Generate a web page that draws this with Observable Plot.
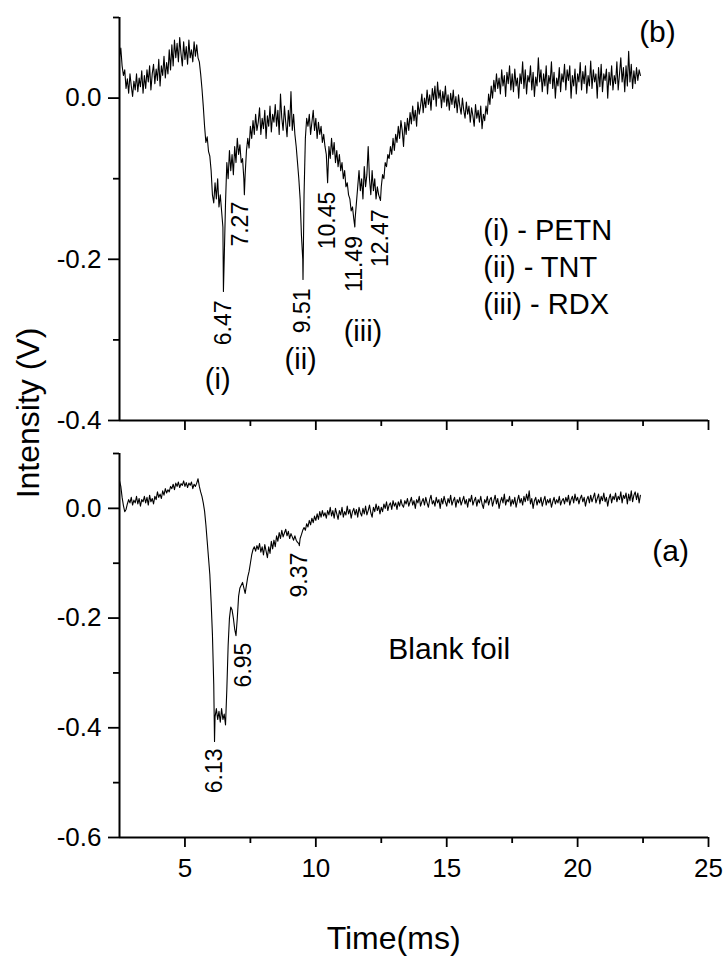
<!DOCTYPE html>
<html><head><meta charset="utf-8">
<script src="https://cdn.jsdelivr.net/npm/d3@7"></script>
<script src="https://cdn.jsdelivr.net/npm/@observablehq/plot@0.6"></script>
<style>
body{margin:0;background:#fff;}
#wrap{position:relative;width:726px;height:958px;font-family:"Liberation Sans",Arial,sans-serif;background:#fff;overflow:hidden;}
#top,#bottom{position:absolute;left:0;}
#top{top:0;}
#bottom{top:440px;}
#ylab{position:absolute;left:28px;top:413px;transform:translate(-50%,-50%) rotate(-90deg);font-size:32px;white-space:nowrap;color:#000;z-index:3;}
</style></head><body>
<div id="wrap"><div id="top"></div><div id="bottom"></div><div id="ylab">Intensity (V)</div></div>
<script>
// ---- sampling grid of the traces (ms) ----
const tStart = 2.5;
const tStep = 0.05;

// ---- panel (b): sample with explosives (V), one row per ms ----
const intensityB = [
  0.05, 0.062, 0.04, 0.028, 0.035, 0.012, 0.024, 0.006, 0.03, 0.015, 0.002, 0.021, 0.01, 0.03, 0.008, 0.025, 0.014, 0.034, 0.006, 0.028,
  0.012, 0.035, 0.02, 0.04, 0.01, 0.03, 0.042, 0.018, 0.036, 0.022, 0.048, 0.015, 0.04, 0.028, 0.052, 0.025, 0.044, 0.03, 0.06, 0.035,
  0.066, 0.04, 0.072, 0.05, 0.068, 0.045, 0.075, 0.055, 0.04, 0.07, 0.048, 0.064, 0.042, 0.072, 0.05, 0.06, 0.045, 0.07, 0.052, 0.066,
  0.05, 0.045, 0.03, 0.012, -0.01, -0.035, -0.055, -0.048, -0.066, -0.072, -0.09, -0.12, -0.13, -0.105, -0.125, -0.1, -0.135, -0.12, -0.14, -0.16,
  -0.2, -0.13, -0.08, -0.1, -0.065, -0.09, -0.07, -0.095, -0.06, -0.08, -0.05, -0.07, -0.058, -0.08, -0.075, -0.1, -0.095, -0.065, -0.05, -0.062,
  -0.035, -0.05, -0.028, -0.045, -0.02, -0.04, -0.03, -0.012, -0.045, -0.025, -0.038, -0.015, -0.05, -0.022, -0.035, -0.01, -0.042, -0.02, -0.03, -0.008,
  -0.035, -0.015, -0.045, 0.005, -0.025, -0.04, -0.01, -0.03, -0.048, -0.015, -0.035, 0.008, -0.04, -0.02, -0.045, -0.06, -0.08, -0.1, -0.125, -0.17,
  -0.2, -0.12, -0.05, -0.025, -0.035, -0.02, -0.045, -0.03, -0.015, -0.04, -0.025, -0.05, -0.03, -0.045, -0.035, -0.055, -0.045, -0.06, -0.07, -0.105,
  -0.06, -0.075, -0.05, -0.07, -0.055, -0.08, -0.065, -0.085, -0.07, -0.09, -0.08, -0.1, -0.09, -0.11, -0.105, -0.12, -0.125, -0.14, -0.135, -0.15,
  -0.15, -0.13, -0.11, -0.09, -0.115, -0.1, -0.125, -0.085, -0.11, -0.095, -0.06, -0.1, -0.12, -0.09, -0.115, -0.1, -0.125, -0.11, -0.12, -0.125,
  -0.11, -0.095, -0.1, -0.08, -0.085, -0.07, -0.075, -0.06, -0.07, -0.05, -0.065, -0.045, -0.055, -0.035, -0.05, -0.028, -0.04, -0.06, -0.03, -0.045,
  -0.025, -0.04, -0.018, -0.032, -0.01, -0.028, -0.015, -0.035, -0.005, -0.02, -0.01, 0.005, -0.018, 0.0, -0.012, 0.01, -0.008, 0.004, -0.015, 0.012,
  -0.002, 0.015, -0.01, 0.02, 0.0, 0.01, -0.012, 0.008, -0.005, 0.015, -0.01, 0.004, -0.015, 0.006, -0.008, 0.01, -0.012, 0.002, -0.018, 0.004,
  -0.01, -0.02, 0.0, -0.015, -0.025, -0.005, -0.02, -0.01, -0.03, -0.012, -0.022, -0.035, -0.008, -0.025, -0.015, -0.03, -0.01, -0.038, -0.02, -0.028,
  -0.01, -0.02, 0.005, -0.008, 0.015, 0.0, 0.022, 0.008, 0.03, 0.012, 0.025, 0.005, 0.035, 0.015, 0.028, 0.002, 0.032, 0.018, 0.04, 0.01,
  0.03, 0.008, 0.036, 0.015, 0.025, 0.0, 0.03, 0.018, 0.045, 0.012, 0.035, 0.005, 0.028, 0.02, 0.04, 0.01, 0.032, 0.002, 0.026, 0.015,
  0.05, 0.02, 0.035, 0.008, 0.03, 0.015, 0.04, 0.005, 0.028, 0.018, 0.045, 0.012, 0.032, 0.0, 0.025, 0.015, 0.038, 0.008, 0.03, 0.02,
  0.042, 0.01, 0.035, 0.022, 0.04, 0.0, 0.028, 0.015, 0.036, 0.005, 0.03, 0.02, 0.044, 0.01, 0.033, 0.018, 0.04, 0.006, 0.028, 0.015,
  0.046, 0.012, 0.035, 0.02, 0.03, 0.0, 0.038, 0.014, 0.042, 0.008, 0.03, 0.022, 0.036, 0.0, 0.032, 0.016, 0.04, 0.01, 0.028, 0.018,
  0.045, 0.01, 0.03, 0.05, 0.02, 0.038, 0.008, 0.04, 0.015, 0.058, 0.02, 0.042, 0.012, 0.034, 0.018, 0.038, 0.022, 0.035, 0.028
];
const peakTimesB = [6.47, 7.27, 9.51, 10.45, 11.49, 12.47];
const peakValuesB = [-0.24, -0.12, -0.225, -0.105, -0.16, -0.127];

// ---- panel (a): blank foil, one row per ms ----
const intensityA = [
  0.05, 0.04, 0.02, 0.005, -0.006, -0.002, 0.008, 0.016, 0.01, 0.02, 0.006, 0.015, 0.01, 0.022, 0.008, 0.018, 0.004, 0.016, 0.012, 0.022,
  0.01, 0.02, 0.006, 0.024, 0.012, 0.018, 0.008, 0.022, 0.016, 0.03, 0.02, 0.026, 0.018, 0.032, 0.024, 0.036, 0.028, 0.034, 0.03, 0.04,
  0.036, 0.044, 0.034, 0.046, 0.04, 0.048, 0.038, 0.045, 0.042, 0.05, 0.04, 0.047, 0.038, 0.046, 0.042, 0.048, 0.036, 0.044, 0.04, 0.046,
  0.054, 0.04, 0.03, 0.022, 0.01, -0.005, -0.03, -0.06, -0.09, -0.12, -0.17, -0.23, -0.32, -0.38, -0.365, -0.385, -0.37, -0.39, -0.365, -0.385,
  -0.375, -0.395, -0.33, -0.25, -0.2, -0.18, -0.185, -0.2, -0.22, -0.232, -0.2, -0.16, -0.145, -0.14, -0.135, -0.145, -0.155, -0.14, -0.125, -0.115,
  -0.1, -0.085, -0.075, -0.07, -0.078, -0.068, -0.075, -0.064, -0.08, -0.07, -0.085, -0.066, -0.078, -0.09, -0.07, -0.082, -0.06, -0.074, -0.058, -0.07,
  -0.05, -0.06, -0.044, -0.055, -0.04, -0.052, -0.045, -0.038, -0.05, -0.042, -0.055, -0.046, -0.052, -0.058, -0.05, -0.058, -0.062, -0.064, -0.055, -0.048,
  -0.04, -0.035, -0.04, -0.028, -0.034, -0.022, -0.03, -0.018, -0.026, -0.014, -0.022, -0.01, -0.02, -0.006, -0.016, -0.004, -0.014, -0.008, -0.018, -0.004,
  -0.012, 0.002, -0.014, -0.004, -0.018, 0.0, -0.01, -0.02, -0.004, -0.012, 0.002, -0.016, -0.006, -0.012, 0.004, -0.01, -0.002, -0.018, -0.006, 0.0,
  -0.012, -0.002, -0.016, 0.002, -0.008, -0.014, 0.0, -0.01, 0.004, -0.012, -0.004, 0.006, -0.008, -0.016, 0.002, -0.006, 0.008, -0.004, 0.004, -0.01,
  0.002, -0.006, 0.008, 0.0, 0.012, -0.004, 0.006, 0.01, -0.002, 0.014, 0.004, 0.01, -0.002, 0.012, 0.004, 0.016, 0.006, 0.002, 0.014, 0.008,
  0.018, 0.004, 0.012, 0.02, 0.006, 0.014, 0.0, 0.016, 0.01, 0.022, 0.004, 0.012, 0.018, 0.006, 0.02, 0.01, 0.002, 0.016, 0.024, 0.008,
  0.014, 0.004, 0.02, 0.01, 0.016, 0.0, 0.018, 0.008, 0.022, 0.012, 0.004, 0.018, 0.01, 0.024, 0.006, 0.014, 0.02, 0.002, 0.016, 0.01,
  0.02, 0.006, 0.014, 0.022, 0.008, 0.016, 0.002, 0.018, 0.012, 0.024, 0.006, 0.014, 0.02, 0.004, 0.016, 0.01, 0.022, 0.008, 0.0, 0.016,
  0.01, 0.022, 0.006, 0.016, 0.02, 0.004, 0.014, 0.024, 0.008, 0.018, 0.0, 0.012, 0.02, 0.01, 0.026, 0.006, 0.016, 0.012, 0.022, 0.004,
  0.016, 0.008, 0.02, 0.002, 0.014, 0.024, 0.01, 0.018, 0.006, 0.022, 0.012, 0.026, 0.014, 0.032, 0.008, 0.018, 0.0, 0.014, 0.02, 0.006,
  0.016, 0.01, 0.02, 0.004, 0.014, 0.022, 0.006, 0.016, 0.01, 0.018, 0.002, 0.012, 0.02, 0.008, 0.016, 0.01, 0.022, 0.006, 0.014, 0.018,
  0.008, 0.02, 0.012, 0.024, 0.006, 0.016, 0.022, 0.01, 0.026, 0.014, 0.02, 0.008, 0.018, 0.024, 0.012, 0.02, 0.004, 0.016, 0.022, 0.01,
  0.024, 0.012, 0.02, 0.028, 0.01, 0.018, 0.026, 0.008, 0.022, 0.014, 0.028, 0.012, 0.02, 0.004, 0.018, 0.026, 0.01, 0.022, 0.016, 0.028,
  0.012, 0.022, 0.016, 0.03, 0.01, 0.024, 0.018, 0.028, 0.008, 0.026, 0.014, 0.032, 0.012, 0.024, 0.03, 0.016, 0.028, 0.01, 0.024
];
const peakTimesA = [6.13, 6.95, 9.37];
const peakValuesA = [-0.425, -0.232, -0.068];

// ---- annotation text ----
const compoundTags = ["(i)", "(ii)", "(iii)"];
const compoundNames = ["PETN", "TNT", "RDX"];
const tagTimes = [6.25, 9.42, 11.8];
const tagValues = [-0.35, -0.325, -0.29];
const legendTime = 16.4;
const legendValues = [-0.164, -0.21, -0.256];
const panelLabels = ["(b)", "(a)"];
const blankLabel = "Blank foil";
const xTitle = "Time(ms)";

// ---- axes ----
const xDomain = [2.5, 25];
const xTicksMajor = [5, 10, 15, 20, 25];
const xTicksMinor = [7.5, 12.5, 17.5, 22.5];
const yDomainB = [-0.4, 0.1];
const yTicksMajorB = [0, -0.2, -0.4];
const yTicksMinorB = [0.1, -0.1, -0.3];
const yDomainA = [-0.6, 0.1];
const yTicksMajorA = [0, -0.2, -0.4, -0.6];
const yTicksMinorA = [0.1, -0.1, -0.3, -0.5];

const FONT = '"Liberation Sans", Arial, sans-serif';
const fmtY = d => d.toFixed(1);

function buildSeries(values, pTimes, pValues) {
  const s = values.map((v, i) => ({t: +(tStart + i * tStep).toFixed(2), v}));
  pTimes.forEach((t, i) => s.push({t, v: pValues[i]}));
  return s.sort((a, b) => a.t - b.t);
}
const seriesB = buildSeries(intensityB, peakTimesB, peakValuesB);
const seriesA = buildSeries(intensityA, peakTimesA, peakValuesA);

const peaksB = peakTimesB.map((t, i) => ({t, v: peakValuesB[i], label: t.toFixed(2)}));
const peaksA = peakTimesA.map((t, i) => ({t, v: peakValuesA[i], label: t.toFixed(2)}));
const tags = compoundTags.map((s, i) => ({t: tagTimes[i], v: tagValues[i], s}));
const legendRows = compoundTags.map((s, i) => ({t: legendTime, v: legendValues[i], s: s + " - " + compoundNames[i]}));

const axisStyle = {stroke: "black", strokeWidth: 1.8};

const topPlot = Plot.plot({
  width: 726, height: 440,
  marginLeft: 119, marginRight: 18, marginTop: 17, marginBottom: 20,
  x: {domain: xDomain, label: null},
  y: {domain: yDomainB, label: null},
  style: {fontFamily: FONT, fontSize: "26px", color: "black", background: "transparent", overflow: "visible"},
  marks: [
    Plot.axisY({ticks: yTicksMajorB, tickSize: 11, tickPadding: 7, tickFormat: fmtY, fontSize: 26, label: null, ...axisStyle}),
    Plot.axisY({ticks: yTicksMinorB, tickSize: 6, fill: "none", label: null, ...axisStyle}),
    Plot.axisX({ticks: xTicksMajor, tickSize: 10, fill: "none", label: null, ...axisStyle}),
    Plot.axisX({ticks: xTicksMinor, tickSize: 6, fill: "none", label: null, ...axisStyle}),
    Plot.ruleX([xDomain[0]], {stroke: "black", strokeWidth: 2}),
    Plot.ruleY([yDomainB[0]], {stroke: "black", strokeWidth: 2}),
    Plot.line(seriesB, {x: "t", y: "v", stroke: "black", strokeWidth: 1.1}),
    Plot.text(peaksB, {filter: (d, i) => i !== 1, x: "t", y: "v", text: "label", rotate: -90, textAnchor: "end", dy: 9, fontSize: 23, fill: "black"}),
    Plot.text(peaksB, {filter: (d, i) => i === 1, x: "t", y: "v", text: "label", rotate: -90, textAnchor: "end", dy: 7, dx: -4, fontSize: 23, fill: "black"}),
    Plot.text(tags, {x: "t", y: "v", text: "s", fontSize: 29, fill: "black"}),
    Plot.text(legendRows, {x: "t", y: "v", text: "s", textAnchor: "start", fontSize: 29, fill: "black"}),
    Plot.text([panelLabels[0]], {x: () => 23.05, y: () => 0.082, text: d => d, fontSize: 30, fill: "black"})
  ]
});
document.getElementById("top").appendChild(topPlot);

const bottomPlot = Plot.plot({
  width: 726, height: 518,
  marginLeft: 119, marginRight: 18, marginTop: 13, marginBottom: 121,
  x: {domain: xDomain, label: null},
  y: {domain: yDomainA, label: null},
  style: {fontFamily: FONT, fontSize: "26px", color: "black", background: "transparent", overflow: "visible"},
  marks: [
    Plot.axisY({ticks: yTicksMajorA, tickSize: 11, tickPadding: 7, tickFormat: fmtY, fontSize: 26, label: null, ...axisStyle}),
    Plot.axisY({ticks: yTicksMinorA, tickSize: 6, fill: "none", label: null, ...axisStyle}),
    Plot.axisX({ticks: xTicksMajor, tickSize: 10, tickPadding: 11, tickFormat: d => String(d), fontSize: 26, label: null, ...axisStyle}),
    Plot.axisX({ticks: xTicksMinor, tickSize: 6, fill: "none", label: null, ...axisStyle}),
    Plot.ruleX([xDomain[0]], {stroke: "black", strokeWidth: 2}),
    Plot.ruleY([yDomainA[0]], {stroke: "black", strokeWidth: 2}),
    Plot.line(seriesA, {x: "t", y: "v", stroke: "black", strokeWidth: 1.1}),
    Plot.text(peaksA, {filter: (d, i) => i !== 1, x: "t", y: "v", text: "label", rotate: -90, textAnchor: "end", dy: 7, fontSize: 23, fill: "black"}),
    Plot.text(peaksA, {filter: (d, i) => i === 1, x: "t", y: "v", text: "label", rotate: -90, textAnchor: "end", dy: 7, dx: 8, fontSize: 23, fill: "black"}),
    Plot.text([panelLabels[1]], {x: () => 23.55, y: () => -0.078, text: d => d, fontSize: 30, fill: "black"}),
    Plot.text([blankLabel], {x: () => 12.77, y: () => -0.258, text: d => d, textAnchor: "start", fontSize: 30, fill: "black"}),
    Plot.text([xTitle], {x: () => 12.97, y: () => -0.785, text: d => d, fontSize: 32, fill: "black"})
  ]
});
document.getElementById("bottom").appendChild(bottomPlot);
</script>
</body></html>
